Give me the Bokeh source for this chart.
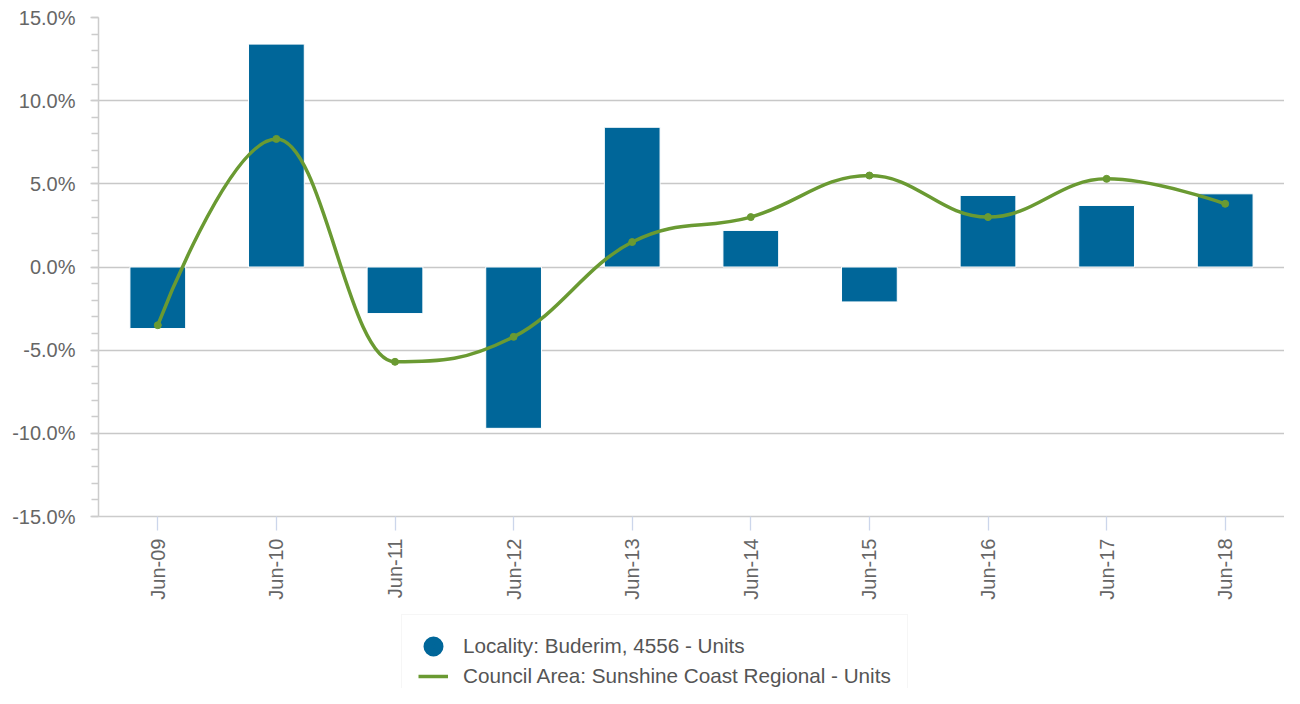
import math
from bokeh.plotting import figure
from bokeh.layouts import column
from bokeh.models import (Range1d, FactorRange, SingleIntervalTicker, PrintfTickFormatter,
                          Legend, LegendItem)
from bokeh.embed import file_html
from bokeh.resources import INLINE

# ---- data ----
periods = ["Jun-09", "Jun-10", "Jun-11", "Jun-12", "Jun-13",
           "Jun-14", "Jun-15", "Jun-16", "Jun-17", "Jun-18"]
locality_units = [-3.7, 13.4, -2.8, -9.7, 8.4, 2.2, -2.1, 4.3, 3.7, 4.4]
council_units = [-3.5, 7.7, -5.7, -4.2, 1.5, 3.0, 5.5, 3.0, 5.3, 3.8]
locality_label = "Locality: Buderim, 4556 - Units"
council_label = "Council Area: Sunshine Coast Regional - Units"

BLUE = "#006699"
GREEN = "#6a9a32"
TEXT = "#666666"
FONT = "Liberation Sans"

# ---- spline control points (Highcharts-style spline rendering) ----
def spline_segments(xs, ys, smoothing=1.5):
    denom = smoothing + 1
    n = len(xs)
    left = [(xs[i], ys[i]) for i in range(n)]
    right = [(xs[i], ys[i]) for i in range(n)]
    for i in range(1, n - 1):
        lx, ly = xs[i - 1], ys[i - 1]
        nx, ny = xs[i + 1], ys[i + 1]
        px, py = xs[i], ys[i]
        lcx = (smoothing * px + lx) / denom
        lcy = (smoothing * py + ly) / denom
        rcx = (smoothing * px + nx) / denom
        rcy = (smoothing * py + ny) / denom
        if rcx != lcx:
            corr = ((rcy - lcy) * (rcx - px)) / (rcx - lcx) + py - rcy
            lcy += corr
            rcy += corr
        if lcy > ly and lcy > py:
            lcy = max(ly, py); rcy = 2 * py - lcy
        elif lcy < ly and lcy < py:
            lcy = min(ly, py); rcy = 2 * py - lcy
        if rcy > ny and rcy > py:
            rcy = max(ny, py); lcy = 2 * py - rcy
        elif rcy < ny and rcy < py:
            rcy = min(ny, py); lcy = 2 * py - rcy
        left[i] = (lcx, lcy)
        right[i] = (rcx, rcy)
    seg = dict(x0=[], y0=[], x1=[], y1=[], cx0=[], cy0=[], cx1=[], cy1=[])
    for i in range(1, n):
        seg["x0"].append(xs[i - 1]); seg["y0"].append(ys[i - 1])
        seg["x1"].append(xs[i]); seg["y1"].append(ys[i])
        seg["cx0"].append(right[i - 1][0]); seg["cy0"].append(right[i - 1][1])
        seg["cx1"].append(left[i][0]); seg["cy1"].append(left[i][1])
    return seg

xpos = [i + 0.5 for i in range(len(periods))]
seg = spline_segments(xpos, council_units)

# ---- main figure ----
p = figure(x_range=FactorRange(*periods), y_range=Range1d(-15, 15),
           width=1284, height=610,
           min_border_left=98, min_border_top=17, min_border_right=0, min_border_bottom=94,
           output_backend="svg", toolbar_location=None)
p.outline_line_color = None
p.background_fill_color = "white"
p.border_fill_color = "white"

p.vbar(x=periods, top=locality_units, bottom=0, width=0.47,
       fill_color=BLUE, line_color="white", line_width=1)

p.bezier(x0=seg["x0"], y0=seg["y0"], x1=seg["x1"], y1=seg["y1"],
         cx0=seg["cx0"], cy0=seg["cy0"], cx1=seg["cx1"], cy1=seg["cy1"],
         line_color=GREEN, line_width=3.5, line_cap="round")
p.scatter(x=periods, y=council_units, size=7, marker="circle",
          fill_color=GREEN, line_color=GREEN)

# ---- axes ----
ticker = SingleIntervalTicker(interval=5, num_minor_ticks=5)
yax = p.yaxis[0]
yax.ticker = ticker
yax.formatter = PrintfTickFormatter(format="%.1f%%")
yax.axis_line_color = "#cccccc"
yax.axis_line_width = 1.5
yax.major_tick_line_color = "#cccccc"
yax.minor_tick_line_color = "#cccccc"
yax.major_tick_line_width = 1.3
yax.minor_tick_line_width = 1.3
yax.major_tick_in = 0
yax.major_tick_out = 8
yax.minor_tick_in = 0
yax.minor_tick_out = 7
yax.major_label_standoff = 15
yax.major_label_text_font = FONT
yax.major_label_text_font_size = "20px"
yax.major_label_text_color = TEXT

p.ygrid.ticker = ticker
p.ygrid.grid_line_color = "#c8c8c8"
p.ygrid.grid_line_width = 1.5
p.xgrid.visible = False

xax = p.xaxis[0]
xax.axis_line_color = "#cccccc"
xax.axis_line_width = 1.5
xax.major_tick_line_color = "#ccd6eb"
xax.major_tick_line_width = 1.3
xax.major_tick_in = 0
xax.major_tick_out = 14
xax.minor_tick_line_color = None
xax.major_label_orientation = math.pi / 2
xax.major_label_standoff = 8
xax.major_label_text_font = FONT
xax.major_label_text_font_size = "20px"
xax.major_label_text_color = TEXT

# ---- legend strip (own figure so the box is not clipped by the plot frame) ----
lg = figure(width=1284, height=78, x_range=Range1d(0, 1), y_range=Range1d(0, 1),
            x_axis_location=None, y_axis_location=None,
            min_border_left=0, min_border_right=0, min_border_top=0, min_border_bottom=0,
            output_backend="svg", toolbar_location=None)
lg.outline_line_color = None
lg.xgrid.visible = False
lg.ygrid.visible = False
lg.background_fill_color = "white"
lg.border_fill_color = "white"

nan = float("nan")
leg_circle = lg.scatter(x=[nan], y=[nan], marker="circle", size=12,
                        fill_color=BLUE, line_color=BLUE, line_width=8)
leg_line = lg.line(x=[nan, nan], y=[nan, nan], line_color=GREEN, line_width=3.5)
leg_dot = lg.scatter(x=[nan], y=[nan], marker="dot", size=12, line_color=GREEN)

legend = Legend(items=[LegendItem(label=locality_label, renderers=[leg_circle]),
                       LegendItem(label=council_label, renderers=[leg_line, leg_dot])],
                location=(303, -20), orientation="vertical",
                glyph_width=30, glyph_height=30, label_height=30,
                label_standoff=15, spacing=0, padding=16, margin=0,
                label_text_font=FONT, label_text_font_size="20.7px",
                label_text_color="#555555",
                border_line_color="#eeeeee", border_line_width=1,
                background_fill_color="white", background_fill_alpha=1)
lg.add_layout(legend)

layout = column(p, lg, spacing=0)
open("out.html", "w").write(file_html(layout, INLINE))
